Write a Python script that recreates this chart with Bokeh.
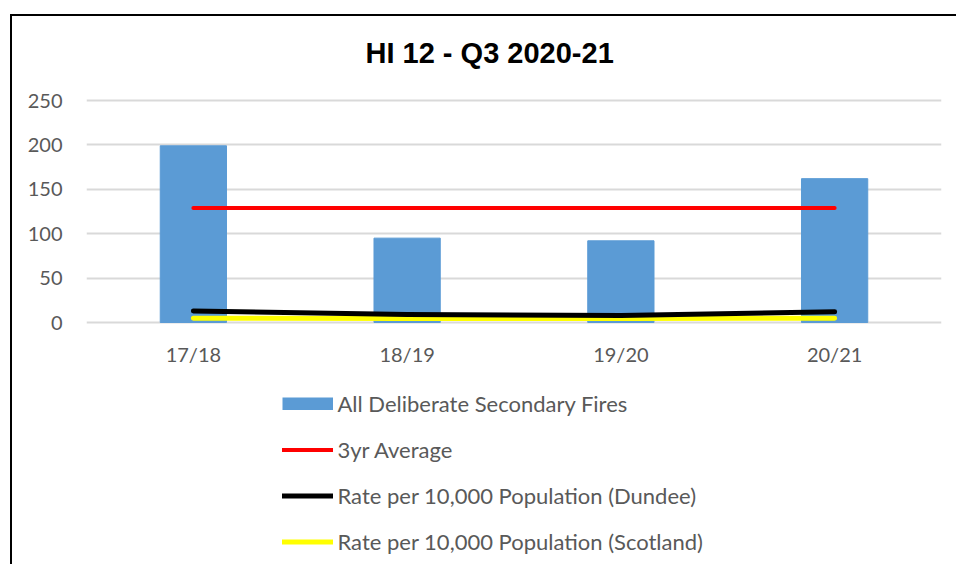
from bokeh.plotting import figure
from bokeh.models import Legend, LegendItem, Title, FactorRange, Range1d
from bokeh.core.properties import value
from bokeh.embed import file_html
from bokeh.resources import INLINE

# ---- data ----
years = ["17/18", "18/19", "19/20", "20/21"]
fires = [199, 95, 92, 162]
avg3yr = [129, 129, 129, 129]
rate_dundee = [13, 9, 8, 12]
rate_scotland = [4.8, 4.5, 4.6, 4.9]
y_ticks = [0, 50, 100, 150, 200, 250]
title_text = "HI 12 - Q3 2020-21"
series_names = ["All Deliberate Secondary Fires", "3yr Average",
                "Rate per 10,000 Population (Dundee)",
                "Rate per 10,000 Population (Scotland)"]

FONT = "Lato"
GREY = "#595959"
BLUE = "#5b9bd5"

# layout: value axis 0..250 spans 222 px; frame extends above and below
# to hold category labels and legend
W, H = 946, 550
TOP, LEFT, RIGHT = 71, 74, 17
Y250 = 84                      # canvas y of the 250 gridline
PX_PER_UNIT = 222 / 250
y_max = 250 + (Y250 - TOP) / PX_PER_UNIT
y_min = 250 - (H - Y250) / PX_PER_UNIT
label_y = -31 / PX_PER_UNIT

p = figure(width=W, height=H, x_range=FactorRange(*years, range_padding=0),
           y_range=Range1d(y_min, y_max), output_backend="svg",
           toolbar_location=None,
           min_border_left=LEFT, min_border_right=RIGHT, min_border_top=TOP,
           min_border_bottom=0)
p.margin = (14, 0, 0, 10)
p.styles = {"border-left": "2px solid black", "border-top": "2px solid black"}
p.outline_line_color = None
p.background_fill_color = "white"
p.border_fill_color = "white"

t = Title(text=title_text, align="left", offset=279, standoff=37,
          text_font="Liberation Sans", text_font_size="29px",
          text_font_style="bold", text_color="black")
p.add_layout(t, "above")

bars = p.vbar(x=years, top=fires, width=0.31, fill_color=BLUE,
              line_color=BLUE)
r_avg = p.line(x=years, y=avg3yr, line_color="#ff0000", line_width=4,
               line_cap="round")
r_sco = p.line(x=years, y=rate_scotland, line_color="#ffff00", line_width=5,
               line_cap="round", line_join="round")
r_dun = p.line(x=years, y=rate_dundee, line_color="black", line_width=5,
               line_cap="round", line_join="round")
p.text(x=years, y=[label_y] * len(years), text=years,
       text_font=value(FONT), text_font_size="20px", text_color=GREY,
       text_align="center", text_baseline="middle")
# legend swatch for the bars: a one-point line (draws nothing in the plot)
# whose legend glyph is a full-size 51x13 rectangle
bar_swatch = p.line(x=years[:1], y=fires[:1], line_color=BLUE, line_width=13,
                    line_cap="butt")

p.xaxis.visible = False
p.yaxis.ticker = y_ticks
p.xgrid.grid_line_color = None
p.ygrid.grid_line_color = "#d9d9d9"
p.ygrid.grid_line_width = 2
p.yaxis.axis_line_color = None
p.yaxis.major_tick_line_color = None
p.yaxis.minor_tick_line_color = None
p.yaxis.major_tick_out = 0
p.yaxis.major_tick_in = 0
p.yaxis.major_label_text_font = FONT
p.yaxis.major_label_text_font_size = "20px"
p.yaxis.major_label_text_color = GREY
p.yaxis.major_label_standoff = 24

legend = Legend(items=[
    LegendItem(label=series_names[0], renderers=[bar_swatch]),
    LegendItem(label=series_names[1], renderers=[r_avg]),
    LegendItem(label=series_names[2], renderers=[r_dun]),
    LegendItem(label=series_names[3], renderers=[r_sco]),
], location=(195.5, 11), orientation="vertical",
    glyph_width=51, glyph_height=13, label_height=13, spacing=19,
    label_standoff=5, padding=0, margin=0,
    border_line_color=None, background_fill_alpha=0,
    label_text_font=FONT, label_text_font_size="22px", label_text_color=GREY)
p.add_layout(legend, "center")

open("out.html", "w").write(file_html(p, INLINE))
